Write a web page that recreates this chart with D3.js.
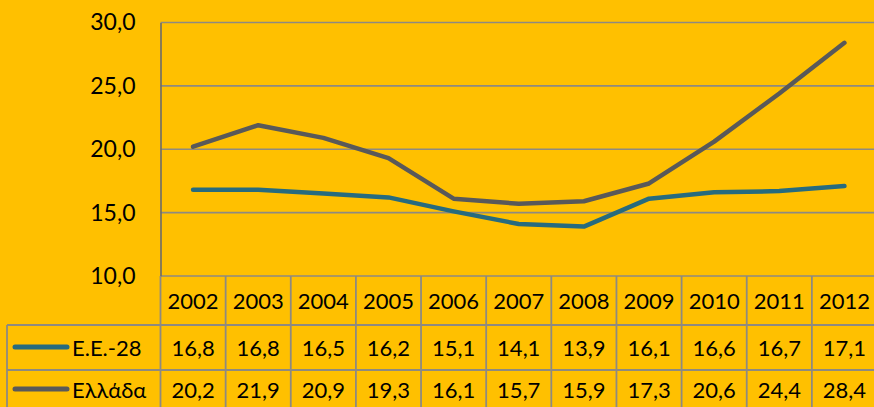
<!DOCTYPE html>
<html>
<head>
<meta charset="utf-8">
<script src="https://cdn.jsdelivr.net/npm/d3@7"></script>
<style>
  html, body { margin: 0; padding: 0; background: #FFC000; }
  svg { display: block; font-family: Lato, "Open Sans", sans-serif; }
</style>
</head>
<body>
<svg id="chart"></svg>
<script>
// data
var years = ['2002','2003','2004','2005','2006','2007','2008','2009','2010','2011','2012'];
var eu28 = [16.8, 16.8, 16.5, 16.2, 15.1, 14.1, 13.9, 16.1, 16.6, 16.7, 17.1];
var greece = [20.2, 21.9, 20.9, 19.3, 16.1, 15.7, 15.9, 17.3, 20.6, 24.4, 28.4];
var seriesNames = ['Ε.Ε.-28', 'Ελλάδα'];
var yTicks = [10, 15, 20, 25, 30];

var W = 874, H = 407;
var plotLeft = 160.5, plotRight = 877, plotTop = 22.5, plotBottom = 276;
var rowLines = [276, 325, 370];
var legendLeft = 7;
var gridColor = '#8e8a80';
var colors = ['#276B7E', '#595959'];

const svg = d3.select('#chart').attr('width', W).attr('height', H);
svg.append('rect').attr('width', W).attr('height', H).attr('fill', '#FFC000');

const x = d3.scaleBand().domain(years).range([plotLeft, plotRight]);
const y = d3.scaleLinear().domain([10, 30]).range([plotBottom, plotTop]);
const fmt = v => d3.format('.1f')(v).replace('.', ',');

// horizontal gridlines
svg.append('g').selectAll('line')
   .data(yTicks)
   .enter().append('line')
   .attr('x1', plotLeft).attr('x2', plotRight)
   .attr('y1', d => y(d)).attr('y2', d => y(d))
   .attr('stroke', gridColor).attr('stroke-width', 1.6);

// y axis
const yAxis = svg.append('g')
   .attr('transform', 'translate(' + plotLeft + ',0)')
   .call(d3.axisLeft(y).tickValues(yTicks).tickFormat(fmt).tickSize(0).tickPadding(25));
yAxis.select('.domain').attr('stroke', '#6b6b6b').attr('stroke-width', 1.6);
yAxis.selectAll('text')
   .attr('font-family', 'Lato, sans-serif')
   .attr('font-size', '23px')
   .attr('fill', '#000');

// lines
const line = d3.line()
   .x((d, i) => x(years[i]) + x.bandwidth() / 2)
   .y(d => y(d));

[eu28, greece].forEach(function(s, k) {
  svg.append('path')
     .datum(s)
     .attr('d', line)
     .attr('fill', 'none')
     .attr('stroke', colors[k])
     .attr('stroke-width', 4.5)
     .attr('stroke-linejoin', 'round')
     .attr('stroke-linecap', 'round');
});

// data table
const table = svg.append('g');
// vertical borders
table.selectAll('line.vcol')
   .data(years.slice(1))
   .enter().append('line')
   .attr('class', 'vcol')
   .attr('x1', d => x(d)).attr('x2', d => x(d))
   .attr('y1', rowLines[0]).attr('y2', H)
   .attr('stroke', gridColor).attr('stroke-width', 1.8);
table.append('line')
   .attr('x1', plotLeft).attr('x2', plotLeft)
   .attr('y1', rowLines[0]).attr('y2', H)
   .attr('stroke', gridColor).attr('stroke-width', 1.8);
table.append('line')
   .attr('x1', legendLeft).attr('x2', legendLeft)
   .attr('y1', rowLines[1]).attr('y2', H)
   .attr('stroke', gridColor).attr('stroke-width', 1.8);
// horizontal borders
table.selectAll('line.hrow')
   .data(rowLines.slice(1))
   .enter().append('line')
   .attr('class', 'hrow')
   .attr('x1', legendLeft).attr('x2', plotRight)
   .attr('y1', d => d).attr('y2', d => d)
   .attr('stroke', gridColor).attr('stroke-width', 1.8);

// year headers
table.selectAll('text.year')
   .data(years)
   .enter().append('text')
   .attr('class', 'year')
   .attr('x', d => x(d) + x.bandwidth() / 2)
   .attr('y', 309)
   .attr('text-anchor', 'middle')
   .attr('font-size', '22px')
   .attr('fill', '#000')
   .text(d => d);

// value rows
var rowMids = [347, 389];
[eu28, greece].forEach(function(s, k) {
  var mid = rowMids[k];
  table.selectAll('text.val' + k)
     .data(s)
     .enter().append('text')
     .attr('class', 'val' + k)
     .attr('x', (d, i) => x(years[i]) + x.bandwidth() / 2)
     .attr('y', mid + 8.5)
     .attr('text-anchor', 'middle')
     .attr('font-size', '22px')
     .attr('fill', '#000')
     .text(fmt);
  table.append('line')
     .attr('x1', 15).attr('x2', 67)
     .attr('y1', mid).attr('y2', mid)
     .attr('stroke', colors[k])
     .attr('stroke-width', 5)
     .attr('stroke-linecap', 'round');
  table.append('text')
     .attr('x', 72)
     .attr('y', mid + 8.5)
     .attr('font-size', '22px')
     .attr('fill', '#000')
     .text(seriesNames[k]);
});
</script>
</body>
</html>
